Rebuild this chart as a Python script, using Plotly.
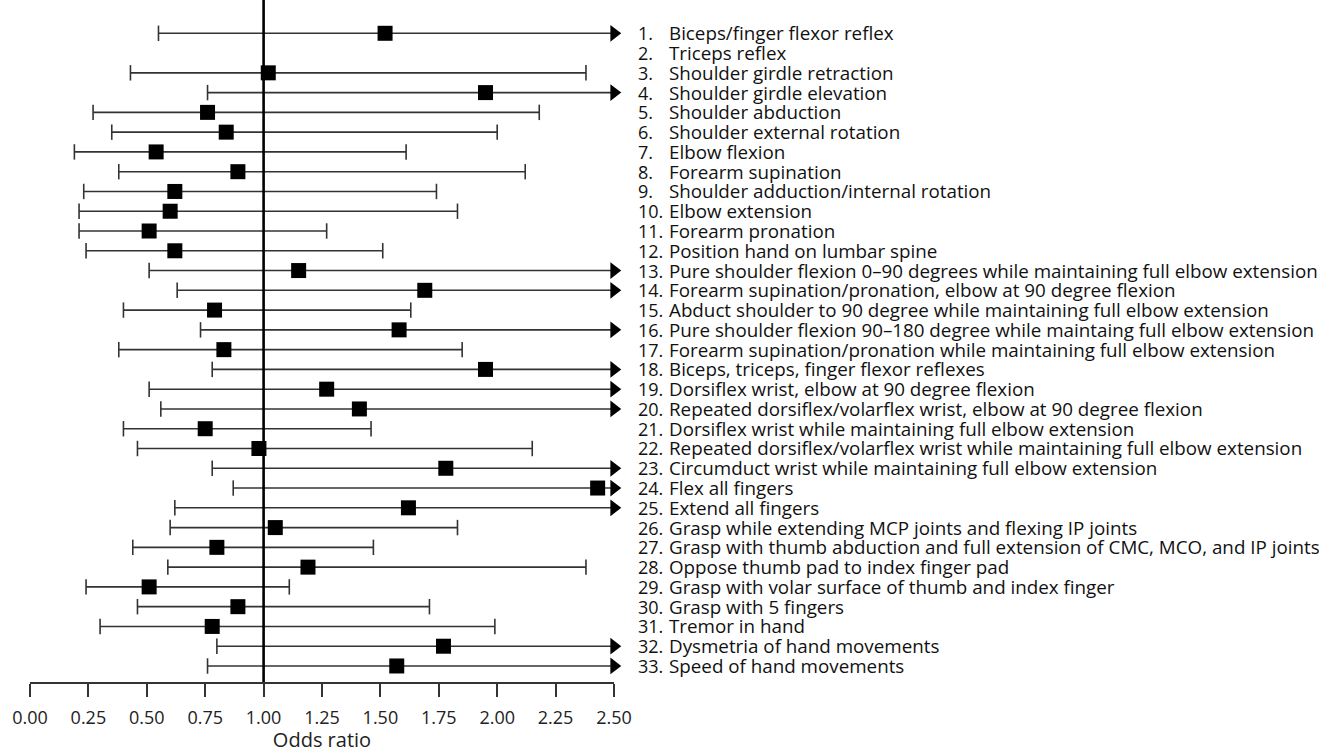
import plotly.graph_objects as go

labels = [
    "Biceps/finger flexor reflex",
    "Triceps reflex",
    "Shoulder girdle retraction",
    "Shoulder girdle elevation",
    "Shoulder abduction",
    "Shoulder external rotation",
    "Elbow flexion",
    "Forearm supination",
    "Shoulder adduction/internal rotation",
    "Elbow extension",
    "Forearm pronation",
    "Position hand on lumbar spine",
    "Pure shoulder flexion 0\u201390 degrees while maintaining full elbow extension",
    "Forearm supination/pronation, elbow at 90 degree flexion",
    "Abduct shoulder to 90 degree while maintaining full elbow extension",
    "Pure shoulder flexion 90\u2013180 degree while maintaing full elbow extension",
    "Forearm supination/pronation while maintaining full elbow extension",
    "Biceps, triceps, finger flexor reflexes",
    "Dorsiflex wrist, elbow at 90 degree flexion",
    "Repeated dorsiflex/volarflex wrist, elbow at 90 degree flexion",
    "Dorsiflex wrist while maintaining full elbow extension",
    "Repeated dorsiflex/volarflex wrist while maintaining full elbow extension",
    "Circumduct wrist while maintaining full elbow extension",
    "Flex all fingers",
    "Extend all fingers",
    "Grasp while extending MCP joints and flexing IP joints",
    "Grasp with thumb abduction and full extension of CMC, MCO, and IP joints",
    "Oppose thumb pad to index finger pad",
    "Grasp with volar surface of thumb and index finger",
    "Grasp with 5 fingers",
    "Tremor in hand",
    "Dysmetria of hand movements",
    "Speed of hand movements",
]

odds = [1.52, None, 1.02, 1.95, 0.76, 0.84, 0.54, 0.89, 0.62, 0.60, 0.51,
        0.62, 1.15, 1.69, 0.79, 1.58, 0.83, 1.95, 1.27, 1.41, 0.75, 0.98,
        1.78, 2.43, 1.62, 1.05, 0.80, 1.19, 0.51, 0.89, 0.78, 1.77, 1.57]
lower = [0.55, None, 0.43, 0.76, 0.27, 0.35, 0.19, 0.38, 0.23, 0.21, 0.21,
         0.24, 0.51, 0.63, 0.40, 0.73, 0.38, 0.78, 0.51, 0.56, 0.40, 0.46,
         0.78, 0.87, 0.62, 0.60, 0.44, 0.59, 0.24, 0.46, 0.30, 0.80, 0.76]
# None = upper limit beyond the axis (drawn as an arrow)
upper = [None, None, 2.38, None, 2.18, 2.00, 1.61, 2.12, 1.74, 1.83, 1.27,
         1.51, None, None, 1.63, None, 1.85, None, None, None, 1.46, 2.15,
         None, None, None, 1.83, 1.47, 2.38, 1.11, 1.71, 1.99, None, None]

x_ticks = [0.0, 0.25, 0.5, 0.75, 1.0, 1.25, 1.5, 1.75, 2.0, 2.25, 2.5]
x_max = 2.5

rows = list(range(1, len(labels) + 1))
cap = 0.39  # half cap height in row units

line_x, line_y, cap_x, cap_y = [], [], [], []
sq_x, sq_y, ar_x, ar_y = [], [], [], []
for r, o, lo, hi in zip(rows, odds, lower, upper):
    if o is None:
        continue
    right = hi if hi is not None else x_max
    line_x += [lo, right, None]
    line_y += [r, r, None]
    cap_x += [lo, lo, None]
    cap_y += [r - cap, r + cap, None]
    if hi is not None:
        cap_x += [hi, hi, None]
        cap_y += [r - cap, r + cap, None]
    else:
        ar_x.append(x_max)
        ar_y.append(r)
    sq_x.append(o)
    sq_y.append(r)

fig = go.Figure()
fig.add_trace(go.Scatter(x=line_x, y=line_y, mode="lines",
                         line=dict(color="#333333", width=1.6),
                         hoverinfo="skip", cliponaxis=False))
fig.add_trace(go.Scatter(x=cap_x, y=cap_y, mode="lines",
                         line=dict(color="#333333", width=1.6),
                         hoverinfo="skip", cliponaxis=False))
fig.add_trace(go.Scatter(x=ar_x, y=ar_y, mode="markers",
                         marker=dict(symbol="triangle-right", size=14.5, color="black"),
                         hoverinfo="skip", cliponaxis=False))
fig.add_trace(go.Scatter(x=sq_x, y=sq_y, mode="markers",
                         marker=dict(symbol="square", size=15, color="black"),
                         cliponaxis=False))

fig.add_shape(type="line", x0=1, x1=1, xref="x", yref="paper", y0=0, y1=1,
              line=dict(color="black", width=2.6))

# label positions in paper units
num_x = 1.0419
txt_x = 1.0949
num_font = dict(size=18, color="#111111", family="Open Sans")
lab_font = dict(size=18.8, color="#111111", family="Open Sans")
for r, lab in zip(rows, labels):
    fig.add_annotation(x=num_x, y=r, xref="paper", yref="y", text=f"{r}.",
                       showarrow=False, xanchor="left", yanchor="middle",
                       font=num_font, borderpad=0, borderwidth=0)
    fig.add_annotation(x=txt_x, y=r, xref="paper", yref="y", text=lab,
                       showarrow=False, xanchor="left", yanchor="middle",
                       font=lab_font, borderpad=0, borderwidth=0)

fig.update_layout(
    width=1319, height=753,
    margin=dict(l=29.7, r=1319 - 29.7 - 584.8, t=0, b=70.7, autoexpand=False),
    plot_bgcolor="white", paper_bgcolor="white",
    showlegend=False,
    font=dict(family="Open Sans", color="#222222"),
    xaxis=dict(range=[0, x_max], tickvals=x_ticks,
               ticktext=[f"{v:.2f}" for v in x_ticks],
               showline=True, linecolor="#333333", linewidth=1.6,
               ticks="outside", ticklen=13, tickwidth=1.6, tickcolor="#333333",
               ticklabelstandoff=6,
               showgrid=False, zeroline=False, automargin=False,
               tickfont=dict(size=18, color="#222222"),
               title=dict(text="Odds ratio", font=dict(size=20, color="#222222"), standoff=3)),
    yaxis=dict(range=[33.81, -0.6835], showticklabels=False, showgrid=False,
               zeroline=False, showline=False, ticks="", automargin=False),
)

fig.write_html(
    "out.html",
    config={"displayModeBar": False},
    post_script="document.body.style.margin='0';document.body.style.overflow='hidden';",
)
